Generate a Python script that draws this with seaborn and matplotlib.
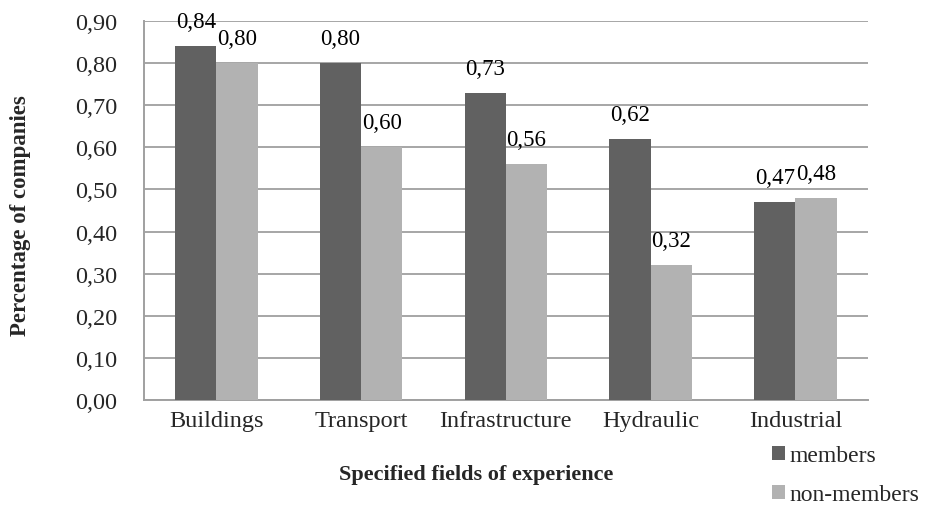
import matplotlib
matplotlib.use("Agg")
import matplotlib.pyplot as plt
import seaborn as sns
import pandas as pd

categories = ["Buildings", "Transport", "Infrastructure", "Hydraulic", "Industrial"]
members = [0.84, 0.80, 0.73, 0.62, 0.47]
non_members = [0.80, 0.60, 0.56, 0.32, 0.48]
series_names = ["members", "non-members"]
y_ticks = [0.0, 0.1, 0.2, 0.3, 0.4, 0.5, 0.6, 0.7, 0.8, 0.9]

df = pd.DataFrame({
    "field": categories * 2,
    "value": members + non_members,
    "group": [series_names[0]] * len(categories) + [series_names[1]] * len(categories),
})

sns.set_style("white")
plt.rcParams["font.family"] = ["Liberation Serif", "DejaVu Serif"]

fig = plt.figure(figsize=(9.38, 5.06), dpi=100)
ax = fig.add_axes([0.1535, 0.2075, 0.7715, 0.749])

palette = {"members": "#616161", "non-members": "#b2b2b2"}
sns.barplot(data=df, x="field", y="value", hue="group", palette=palette,
            width=0.57, gap=0, saturation=1, ax=ax, legend=True,
            edgecolor="none", linewidth=0, zorder=3)

def fmt(v):
    return f"{v:.2f}".replace(".", ",")

for container in ax.containers:
    ax.bar_label(container, labels=[fmt(b.get_height()) for b in container],
                 padding=10, fontsize=16.5, color="#000000")

ax.set_ylim(0, 0.9)
ax.set_xlim(-0.5, len(categories) - 0.5)
ax.set_yticks(y_ticks)
ax.set_yticklabels([fmt(t) for t in y_ticks], fontsize=17.5)
ax.tick_params(axis="y", which="major", direction="out", length=8, width=1.2,
               color="#a0a0a0", pad=11)
ax.tick_params(axis="x", length=0, labelsize=17.5, pad=7)
ax.yaxis.grid(True, color="#a6a6a6", linewidth=1.4, zorder=0)
ax.set_axisbelow(True)

for side in ["top", "right"]:
    ax.spines[side].set_visible(False)
for side in ["left", "bottom"]:
    ax.spines[side].set_color("#a0a0a0")
    ax.spines[side].set_linewidth(1.4)

ax.set_xlabel("Specified fields of experience", fontsize=16, fontweight="bold")
ax.xaxis.set_label_coords(0.459, -0.169)
ax.set_ylabel("Percentage of companies", fontsize=16.5, fontweight="bold")
ax.yaxis.set_label_coords(-0.156, 0.49)

handles, labels = ax.get_legend_handles_labels()
ax.legend(handles, labels, loc="upper left", bbox_to_anchor=(0.868, -0.12),
          frameon=False, fontsize=17, handlelength=0.55, handleheight=0.55,
          handletextpad=0.2, labelspacing=0.75, borderaxespad=0, borderpad=0)

fig.savefig("out.png", dpi=100)
